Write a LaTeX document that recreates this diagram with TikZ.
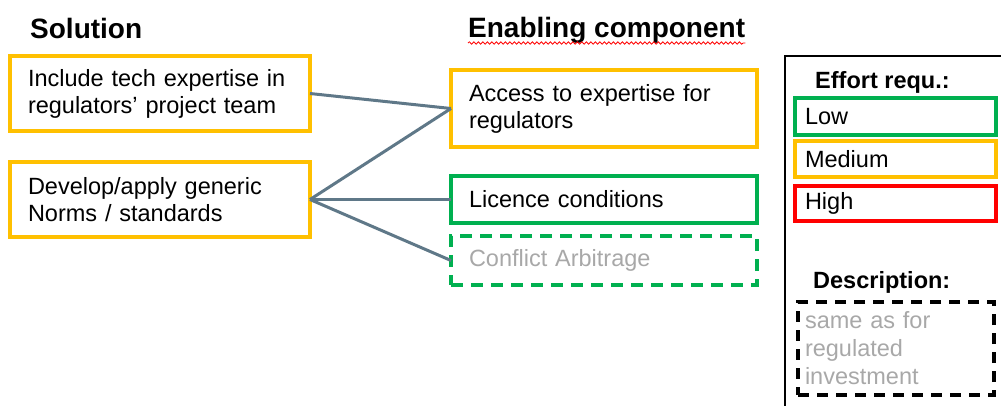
\documentclass[tikz,border=0pt]{standalone}
\usepackage{fontspec}
\setmainfont{Liberation Sans}
\usetikzlibrary{decorations.pathmorphing}
\definecolor{cOrange}{HTML}{FFC000}
\definecolor{cGreen}{HTML}{00B050}
\definecolor{cRed}{HTML}{FF0000}
\definecolor{cLine}{HTML}{5F7888}
\definecolor{cGrey}{HTML}{A8A8A8}
\begin{document}
\begin{tikzpicture}[x=1pt,y=-1pt,
  bodyfont/.style={font=\fontsize{23.5}{27}\selectfont},
  titlefont/.style={font=\fontsize{28}{32}\selectfont\bfseries, inner sep=0pt, anchor=base west},
  legtitle/.style={font=\fontsize{23.5}{27}\selectfont\bfseries, inner sep=0pt, anchor=base west},
  boxstyle/.style={draw, line width=3.5pt, rectangle, anchor=north west, outer sep=0pt, inner ysep=0pt, align=left, bodyfont},
  legbox/.style={boxstyle, line width=3.5pt, inner xsep=10pt, text width=181pt, minimum width=201pt},
  conn/.style={draw=cLine, line width=3pt}
]
\useasboundingbox (0,0) rectangle (1001,405);
\clip (0,0) rectangle (1001,405);

% titles
\node[titlefont] (tsol) at (30,38) {Solution};
\node[titlefont] (tenab) at (468,37.5) {Enabling component};
\draw[cRed, line width=0.8pt, decorate, decoration={snake, amplitude=1.2pt, segment length=4.5pt}]
  ([yshift=-5.5pt]tenab.base west) -- ([yshift=-5.5pt]tenab.base east);

% solution boxes
\node[boxstyle, draw=cOrange, inner xsep=18pt, text width=264pt, minimum width=300pt, minimum height=75pt] (b1) at (10,56)
  {Include tech expertise in\\regulators’ project team};
\node[boxstyle, draw=cOrange, inner xsep=18pt, text width=264pt, minimum width=300pt, minimum height=75pt] (b2) at (10,162)
  {Develop/apply generic\\Norms / standards};

% enabling components
\node[boxstyle, draw=cOrange, inner xsep=18pt, text width=270pt, minimum width=306pt, minimum height=77pt] (b3) at (451,70)
  {Access to expertise for\\regulators};
\node[boxstyle, draw=cGreen, inner xsep=18pt, text width=270pt, minimum width=306pt, minimum height=47pt] (b4) at (451,176)
  {Licence conditions};
\node[boxstyle, draw=cGreen, dash pattern=on 12pt off 8pt, text=cGrey, inner xsep=18pt, text width=270pt, minimum width=306pt, minimum height=49pt] (b5) at (451,236)
  {Conflict Arbitrage};

% connectors
\draw[conn] (b1.east) -- (b3.west);
\draw[conn] (b2.east) -- (b3.west);
\draw[conn] (b2.east) -- (b4.west);
\draw[conn] (b2.east) -- (b5.west);

% legend frame
\node[draw, line width=2pt, rectangle, anchor=north west, outer sep=0pt, minimum width=240pt, minimum height=380pt, inner sep=0pt] (legend) at (785,56) {};
\node[legtitle] (teff) at (815,88) {Effort requ.:};
\node[legbox, draw=cGreen, minimum height=37pt] (llow) at (795,98) {Low};
\node[legbox, draw=cOrange, minimum height=36pt] (lmed) at (795,141) {Medium};
\node[legbox, draw=cRed, minimum height=35pt] (lhigh) at (795,186) {High};
\node[legtitle] (tdesc) at (813,288) {Description:};
\node[boxstyle, draw=black, dash pattern=on 11pt off 8pt, line width=3.5pt, text=cGrey, inner xsep=7pt, text width=182pt, minimum width=196pt, minimum height=93pt, font=\fontsize{23.5}{28}\selectfont] (ldesc) at (798,302)
  {same as for\\regulated\\investment};
\end{tikzpicture}
\end{document}
